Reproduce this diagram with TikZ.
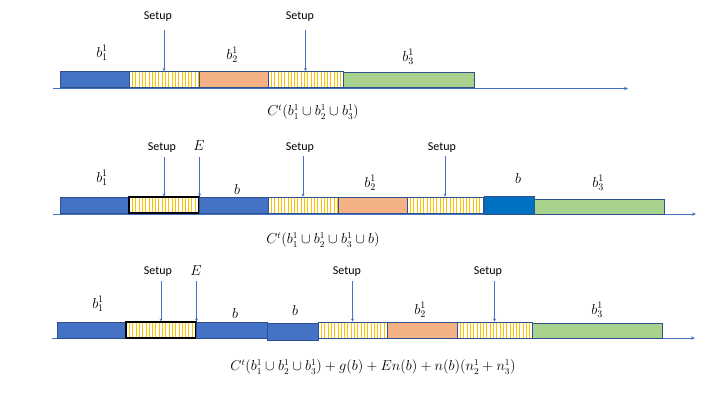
\documentclass[tikz,border=0pt]{standalone}
\usepackage{fontspec}
\setsansfont{Carlito}
\usetikzlibrary{arrows.meta}
\definecolor{bblue}{HTML}{4472C4}
\definecolor{dblue}{HTML}{0070C0}
\definecolor{eblue}{HTML}{2F528F}
\definecolor{oran}{HTML}{F4B183}
\definecolor{gree}{HTML}{A9D18E}
\definecolor{yell}{HTML}{FFC000}
\tikzset{
  blk/.style={draw=eblue,line width=0.8pt,inner sep=0pt,minimum height=16pt},
  bluebox/.style={blk,fill=bblue},
  darkbox/.style={blk,fill=dblue},
  orbox/.style={blk,fill=oran},
  grbox/.style={blk,fill=gree,minimum height=15pt},
  setbox/.style={blk,fill=white,path picture={
      \foreach \i in {1,...,23}
        \draw[yell,line width=0.45pt]
          ([xshift=\i*3.3pt]path picture bounding box.south west) --
          ([xshift=\i*3.3pt]path picture bounding box.north west);}},
  setboxk/.style={setbox,draw=black,line width=1.1pt},
  lbl/.style={font=\sffamily\fontsize{12}{14}\selectfont,inner sep=1pt},
  mlbl/.style={font=\fontsize{14}{16}\selectfont,inner sep=1pt},
  form/.style={font=\fontsize{13.5}{16}\selectfont,inner sep=1pt},
  arr/.style={draw=bblue,line width=0.7pt,-{Stealth[length=3pt,width=3pt]}},
  axis/.style={draw=bblue,line width=0.6pt,-{Stealth[length=4pt,width=3.5pt]}}
}
\begin{document}
\begin{tikzpicture}[x=1pt,y=-1pt]
\useasboundingbox (0,0) rectangle (720,405);
% ---------- Row 1 ----------
\coordinate (a1s) at (53,88.5);
\coordinate (a1e) at (628,88.5);
\draw[axis] (a1s) -- (a1e);
\node[bluebox,minimum width=69pt] (r1a) at (94.5,79.5) {};
\node[setbox,minimum width=70pt] (r1s1) at (164,79.5) {};
\node[orbox,minimum width=69pt] (r1o) at (233.5,79.5) {};
\node[setbox,minimum width=75pt] (r1s2) at (305.5,79.5) {};
\node[grbox,minimum width=131pt] (r1g) at (408.5,79.5) {};
\node[lbl] (r1l1) at (158,17) {Setup};
\node[lbl] (r1l2) at (300,17) {Setup};
\draw[arr] ([yshift=-7pt]r1l1.south -| r1s1.north) -- (r1s1.north);
\draw[arr] ([yshift=-7pt]r1l2.south -| r1s2.north) -- (r1s2.north);
\node[mlbl] (r1m1) at (102,53) {$b_1^1$};
\node[mlbl] (r1m2) at (232,55) {$b_2^1$};
\node[mlbl] (r1m3) at (408,57) {$b_3^1$};
\node[form] (r1f) at (313,112) {$C^t(b_1^1\cup b_2^1\cup b_3^1)$};
% ---------- Row 2 ----------
\coordinate (a2s) at (53,214);
\coordinate (a2e) at (696,214);
\draw[axis] (a2s) -- (a2e);
\node[bluebox,minimum width=69pt] (r2a) at (94.5,205) {};
\node[setboxk,minimum width=70pt] (r2s1) at (164,205) {};
\node[bluebox,minimum width=69pt] (r2b) at (233.5,205) {};
\node[setbox,minimum width=70pt] (r2s2) at (303,205) {};
\node[orbox,minimum width=69pt] (r2o) at (372.5,205) {};
\node[setbox,minimum width=76pt] (r2s3) at (445,205) {};
\node[darkbox,minimum width=50pt,minimum height=18pt] (r2b2) at (509,205) {};
\node[grbox,minimum width=130pt] (r2g) at (599,206.5) {};
\node[lbl] (r2l1) at (162,148) {Setup};
\node[mlbl] (r2e) at (199,146) {$E$};
\node[lbl] (r2l2) at (300,148) {Setup};
\node[lbl] (r2l3) at (442,148) {Setup};
\draw[arr] ([yshift=-3pt]r2l1.south -| r2s1.north) -- (r2s1.north);
\draw[arr] ([yshift=-3pt]r2l1.south -| r2s1.north east) -- (r2s1.north east);
\draw[arr] ([yshift=-2pt]r2l2.south -| r2s2.north) -- (r2s2.north);
\draw[arr] ([yshift=-2pt]r2l3.south -| r2s3.north) -- (r2s3.north);
\node[mlbl] (r2m1) at (102,178) {$b_1^1$};
\node[mlbl] (r2m2) at (237,189) {$b$};
\node[mlbl] (r2m3) at (370,183) {$b_2^1$};
\node[mlbl] (r2m4) at (518,178) {$b$};
\node[mlbl] (r2m5) at (598,183) {$b_3^1$};
\node[form] (r2f) at (323,240) {$C^t(b_1^1\cup b_2^1\cup b_3^1\cup b)$};
% ---------- Row 3 ----------
\coordinate (a3s) at (52,338);
\coordinate (a3e) at (695,338);
\draw[axis] (a3s) -- (a3e);
\node[bluebox,minimum width=69pt] (r3a) at (91.5,330) {};
\node[setboxk,minimum width=70pt] (r3s1) at (161,330) {};
\node[bluebox,minimum width=71pt] (r3b) at (231.5,330) {};
\node[bluebox,minimum width=51pt,minimum height=17pt] (r3b2) at (292.5,331.5) {};
\node[setbox,minimum width=69pt] (r3s2) at (352.5,330) {};
\node[orbox,minimum width=70pt] (r3o) at (422,330) {};
\node[setbox,minimum width=75pt] (r3s3) at (494.5,330) {};
\node[grbox,minimum width=130pt] (r3g) at (597,330.5) {};
\node[lbl] (r3l1) at (158,272) {Setup};
\node[mlbl] (r3e) at (196,271) {$E$};
\node[lbl] (r3l2) at (347,272) {Setup};
\node[lbl] (r3l3) at (488,272) {Setup};
\draw[arr] ([yshift=-3pt]r3l1.south -| r3s1.north) -- (r3s1.north);
\draw[arr] ([yshift=-3pt]r3l1.south -| r3s1.north east) -- (r3s1.north east);
\draw[arr] ([yshift=-3pt]r3l2.south -| r3s2.north) -- (r3s2.north);
\draw[arr] ([yshift=-3pt]r3l3.south -| r3s3.north) -- (r3s3.north);
\node[mlbl] (r3m1) at (98,304) {$b_1^1$};
\node[mlbl] (r3m2) at (235,313) {$b$};
\node[mlbl] (r3m3) at (295,310) {$b$};
\node[mlbl] (r3m4) at (420,310) {$b_2^1$};
\node[mlbl] (r3m5) at (597,310) {$b_3^1$};
\node[form] (r3f) at (373,367) {$C^t(b_1^1\cup b_2^1\cup b_3^1)+g(b)+En(b)+n(b)(n_2^1+n_3^1)$};
\end{tikzpicture}
\end{document}
